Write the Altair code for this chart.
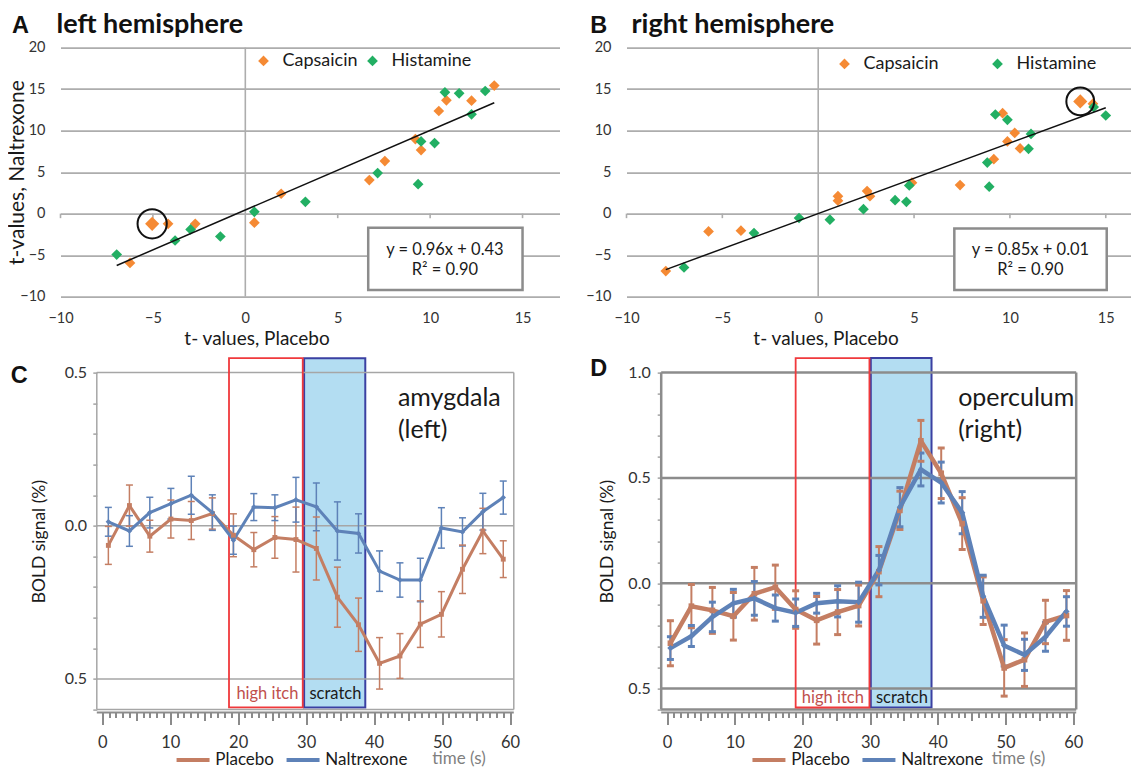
import altair as alt
import pandas as pd

FONT = "Lato"
LFONT = "Liberation Sans"
ORANGE = "#F58A34"
GREEN = "#22AF63"
BROWN = "#C47E63"
BLUE = "#5E82B8"
GRID = "#ADADAD"
TXT = "#1A1A1A"
LAB = "#333333"
RED = "#F0393C"
DBLUE = "#3B40A2"
LBLUE = "#B3DDF2"

# ---------------- Panel A (left hemisphere) ----------------
A_caps_x = [-5.04, -4.18, -2.71, -6.24, 0.49, 1.94, 6.71, 7.55, 9.20, 9.51, 10.47, 10.88, 12.24, 13.47]
A_caps_y = [-1.23, -1.23, -1.23, -5.94, -1.10, 2.39, 4.04, 6.33, 8.98, 7.66, 12.36, 13.65, 13.60, 15.42]
A_hist_x = [-6.96, -3.80, -2.96, -1.35, 0.49, 3.25, 7.16, 9.35, 9.51, 10.24, 10.80, 11.57, 12.24, 12.98]
A_hist_y = [-4.93, -3.24, -1.91, -2.76, 0.22, 1.42, 4.88, 3.55, 8.70, 8.50, 14.61, 14.49, 11.96, 14.77]
A_fit = (0.96, 0.43)
A_fit_x = [-6.96, 13.47]
A_eq = ["y = 0.96x + 0.43", "R² = 0.90"]

# ---------------- Panel B (right hemisphere) ----------------
B_caps_x = [13.67, -7.95, -5.72, -4.03, 1.03, 1.03, 2.55, 2.70, 4.89, 7.40, 9.16, 9.62, 9.87, 10.25, 10.53, 14.33]
B_caps_y = [13.52, -6.92, -2.15, -2.06, 2.10, 1.55, 2.71, 2.10, 3.72, 3.44, 6.56, 12.10, 8.70, 9.72, 7.85, 13.24]
B_hist_x = [-7.00, -3.35, -1.00, 0.61, 2.36, 4.01, 4.60, 4.75, 8.82, 8.92, 9.24, 9.87, 10.97, 11.10, 14.37, 15.00]
B_hist_y = [-6.48, -2.35, -0.53, -0.73, 0.53, 1.62, 1.42, 3.40, 6.15, 3.24, 11.94, 11.30, 7.81, 9.60, 12.83, 11.82]
B_fit = (0.85, 0.01)
B_fit_x = [-7.95, 15.00]
B_eq = ["y = 0.85x + 0.01", "R² = 0.90"]

SC_XTICKS = [-10, -5, 0, 5, 10, 15]
SC_YTICKS = [-10, -5, 0, 5, 10, 15, 20]
SC_ZERO_TICKS = [-10, -5, 5, 10, 15]

# ---------------- Panel C (amygdala, left) ----------------
C_t = [0.9, 4.0, 7.0, 10.1, 13.1, 16.2, 19.3, 22.3, 25.4, 28.5, 31.5, 34.6, 37.7, 40.8, 43.8, 46.8, 49.9, 53.0, 56.0, 59.0]
C_plac = [-0.064, 0.066, -0.034, 0.022, 0.017, 0.040, -0.031, -0.078, -0.038, -0.045,
          -0.074, -0.233, -0.323, -0.449, -0.425, -0.321, -0.289, -0.142, -0.017, -0.109]
C_plac_err = [0.062, 0.067, 0.052, 0.062, 0.062, 0.051, 0.070, 0.056, 0.068, 0.106,
              0.103, 0.098, 0.087, 0.084, 0.073, 0.076, 0.074, 0.079, 0.074, 0.060]
C_nalt = [0.013, -0.017, 0.043, 0.072, 0.100, 0.043, -0.047, 0.061, 0.059, 0.085,
          0.062, -0.017, -0.025, -0.148, -0.177, -0.177, -0.007, -0.020, 0.046, 0.092]
C_nalt_err = [0.047, 0.050, 0.050, 0.050, 0.062, 0.058, 0.046, 0.044, 0.042, 0.073,
              0.078, 0.095, 0.064, 0.066, 0.056, 0.071, 0.066, 0.046, 0.060, 0.054]
C_YTICKS = [-0.6, -0.5, -0.4, -0.3, -0.2, -0.1, 0.0, 0.1, 0.2, 0.3, 0.4, 0.5]
C_GRID = [0.0, -0.5]

# ---------------- Panel D (operculum, right) ----------------
D_t = [0.5, 3.6, 6.7, 9.8, 12.9, 16.0, 19.0, 22.1, 25.2, 28.3, 31.3, 34.4, 37.5, 40.5, 43.6, 46.7, 49.8, 52.8, 55.9, 59.0]
D_plac = [-0.285, -0.109, -0.129, -0.157, -0.050, -0.019, -0.125, -0.176, -0.137, -0.106,
          0.055, 0.346, 0.676, 0.522, 0.283, -0.083, -0.402, -0.363, -0.184, -0.153]
D_plac_err = [0.107, 0.103, 0.109, 0.113, 0.125, 0.105, 0.089, 0.113, 0.107, 0.097,
              0.119, 0.091, 0.097, 0.120, 0.123, 0.113, 0.134, 0.127, 0.103, 0.118]
D_nalt = [-0.308, -0.251, -0.160, -0.095, -0.072, -0.118, -0.140, -0.095, -0.086, -0.090,
          0.062, 0.361, 0.540, 0.478, 0.335, -0.062, -0.296, -0.340, -0.255, -0.134]
D_nalt_err = [0.054, 0.050, 0.070, 0.066, 0.080, 0.062, 0.065, 0.047, 0.074, 0.095,
              0.070, 0.093, 0.078, 0.097, 0.100, 0.100, 0.097, 0.074, 0.068, 0.070]
D_YTICKS = [-0.6, -0.5, -0.4, -0.3, -0.2, -0.1, 0.0, 0.1, 0.2, 0.3, 0.4, 0.5, 0.6, 0.7, 0.8, 0.9, 1.0]
D_GRID = [0.5, 0.0, -0.5]

TIME_TICKS = list(range(0, 61))
CONDS = ["Placebo", "Naltrexone"]
GROUPS = ["Capsaicin", "Histamine"]


def text_px(text, x, y, size, font=FONT, weight="normal", color=TXT, align="left"):
    return alt.Chart(pd.DataFrame({"s": [text]})).mark_text(
        align=align, baseline="alphabetic", font=font, fontSize=size,
        fontWeight=weight, color=color
    ).encode(x=alt.value(x), y=alt.value(y), text="s:N")


def scatter_panel(caps_x, caps_y, hist_x, hist_y, fit, fit_x, eq, xmax, width,
                  box, eq_x, letter, title, letter_dx, title_dx,
                  legend_x, legend_y, col_pad, xtitle_x, ytitle, circle_size):
    height = 249
    pts = pd.DataFrame({
        "x": caps_x + hist_x,
        "y": caps_y + hist_y,
        "group": [GROUPS[0]] * len(caps_x) + [GROUPS[1]] * len(hist_x),
    })
    xsc = alt.Scale(domain=[-10, xmax], nice=False, zero=False)
    ysc = alt.Scale(domain=[-10, 20], nice=False, zero=False)

    xaxis = alt.Axis(values=SC_XTICKS, grid=False, domain=False, ticks=False, tickSize=0,
                     labelPadding=22, labelBaseline="middle", labelFontSize=14.5,
                     labelColor=LAB, labelFlush=False, labelOverlap=False,
                     title="t- values, Placebo", titleFontSize=19, titleFontWeight="normal",
                     titleColor=TXT, titleX=xtitle_x, titleY=48, titleAlign="center",
                     titleBaseline="alphabetic")
    ykw = dict(values=SC_YTICKS, grid=True, gridColor=GRID, gridWidth=1.6, domain=False,
               ticks=False, tickSize=0, labelPadding=15.5, labelFontSize=14.5,
               labelColor=LAB, labelFlush=False, labelOverlap=False)
    if ytitle:
        ykw.update(title=ytitle, titleFontSize=21, titleFontWeight="normal", titleColor=TXT,
                   titleAngle=270, titleX=-37, titleY=height / 2, titleAlign="center",
                   titleBaseline="alphabetic")
    else:
        ykw.update(title="")
    yaxis = alt.Axis(**ykw)

    def X(f="x"):
        return alt.X(f + ":Q", scale=xsc, axis=xaxis)

    def Y(f="y"):
        return alt.Y(f + ":Q", scale=ysc, axis=yaxis)

    points = alt.Chart(pts).mark_point(
        shape="diamond", filled=True, size=115, opacity=1, strokeWidth=0
    ).encode(
        x=X(), y=Y(),
        color=alt.Color("group:N", scale=alt.Scale(domain=GROUPS, range=[ORANGE, GREEN]),
                        legend=alt.Legend(orient="none", legendX=legend_x, legendY=legend_y,
                                          direction="horizontal", title=None,
                                          symbolType="diamond", symbolSize=115,
                                          symbolStrokeWidth=0, labelFont=FONT,
                                          labelFontSize=18, labelColor=TXT, labelOffset=10,
                                          columnPadding=col_pad, padding=0)),
    )

    zero = pd.DataFrame({"x": [0], "y": [-10], "y2": [20]})
    zero_line = alt.Chart(zero).mark_rule(color=GRID, strokeWidth=1.6).encode(
        x=X(), y=Y(), y2="y2:Q")

    zt = pd.DataFrame({"x": SC_ZERO_TICKS, "y": [0] * len(SC_ZERO_TICKS),
                       "y2": [-0.55] * len(SC_ZERO_TICKS)})
    zero_ticks = alt.Chart(zt).mark_rule(color=GRID, strokeWidth=1.6).encode(
        x=X(), y=Y(), y2="y2:Q")

    fit_df = pd.DataFrame({"x": fit_x, "y": [fit[0] * v + fit[1] for v in fit_x]})
    trend = alt.Chart(fit_df).mark_line(color="#111111", strokeWidth=1.5).encode(x=X(), y=Y())

    hl = pd.DataFrame({"x": [caps_x[0]], "y": [caps_y[0]]})
    big = alt.Chart(hl).mark_point(shape="diamond", filled=True, size=200, opacity=1,
                                   color=ORANGE, strokeWidth=0).encode(x=X(), y=Y())
    ring = alt.Chart(hl).mark_point(shape="circle", filled=False, size=circle_size, opacity=1,
                                    color="#111111", strokeWidth=2).encode(x=X(), y=Y())

    bx = pd.DataFrame({"x": [box[0]], "x2": [box[1]], "y": [box[2]], "y2": [box[3]]})
    box_m = alt.Chart(bx).mark_rect(fill="white", stroke="#8C8C8C", strokeWidth=2.5).encode(
        x=X(), x2="x2:Q", y=Y(), y2="y2:Q")
    eq_df = pd.DataFrame({"x": [eq_x, eq_x], "y": [-4.35, -6.75], "s": eq})
    eq_t = alt.Chart(eq_df).mark_text(fontSize=16.5, color=TXT, baseline="middle",
                                      align="center").encode(x=X(), y=Y(), text="s:N")

    let = text_px(letter, letter_dx, -15, 23.5, font=LFONT, weight="bold", color="#111111")
    tit = text_px(title, title_dx, -15, 27, weight="bold", color="#111111")

    return alt.layer(zero_line, zero_ticks, points, big, trend, ring, box_m, eq_t, let, tit
                     ).properties(width=width, height=height)


def bold_panel(t, plac, plac_err, nalt, nalt_err, frame_l, xmax, ppu, ext, ydom, yticks,
               grid_vals, grid_col, grid_w, frame_col, frame_w, hi, sc, rect_y, lab_y,
               hi_x, sc_x, region, region_x, region_y, letter, letter_dx, letter_dy,
               legend_x, legend_y, title_x, title_y, ytitle_x, ylab_pad,
               line_w, err_w, cap_thick, mark_size):
    height = 337
    # the view starts `ext` pixels left of the visible frame (for column alignment)
    xmin = frame_l - ext / ppu
    width = (xmax - xmin) * ppu
    ppy = height / (ydom[1] - ydom[0])
    n = len(t)
    df = pd.DataFrame({
        "x": t + t,
        "y": plac + nalt,
        "e": plac_err + nalt_err,
        "cond": [CONDS[0]] * n + [CONDS[1]] * n,
    })
    df["lo"] = df["y"] - df["e"]
    df["hi"] = df["y"] + df["e"]
    xsc = alt.Scale(domain=[xmin, xmax], nice=False, zero=False)
    ysc = alt.Scale(domain=ydom, nice=False, zero=False)
    csc = alt.Scale(domain=CONDS, range=[BROWN, BLUE])

    ylab = ("abs(datum.value) < 0.01 ? '0.0' : abs(abs(datum.value) - 0.5) < 0.01 ? '0.5'"
            " : abs(datum.value - 1) < 0.01 ? '1.0' : ''")
    xaxis = alt.Axis(values=TIME_TICKS, grid=False, domain=False, ticks=True,
                     tickColor="#595959", tickWidth=1.4,
                     tickSize={"condition": [{"test": "datum.value % 10 === 0", "value": 12},
                                             {"test": "datum.value % 5 === 0", "value": 8}],
                               "value": 5},
                     labelExpr="datum.value % 10 === 0 ? datum.label : ''",
                     labelFontSize=16.5, labelColor=LAB, labelPadding=18,
                     labelBaseline="middle", labelFlush=False, labelOverlap=False, offset=3,
                     title="time (s)", titleFontSize=17, titleFontWeight="normal",
                     titleColor="#7F7F7F", titleX=title_x + ext, titleY=title_y,
                     titleAlign="left", titleBaseline="middle")
    yaxis = alt.Axis(values=yticks, grid=False, domain=False, ticks=True, tickSize=4,
                     tickColor="#8C8C8C", tickWidth=1.2, labelExpr=ylab, labelFontSize=16,
                     labelColor=LAB, labelPadding=ylab_pad, labelFlush=False,
                     labelOverlap=False, offset=-ext, title="BOLD signal (%)",
                     titleFontSize=17.5, titleFontWeight="normal", titleColor=TXT,
                     titleAngle=270, titleX=ytitle_x, titleY=height / 2, titleAlign="center",
                     titleBaseline="alphabetic")
    # line-sample legend: custom stroke path twice the nominal symbol size
    legend = alt.Legend(orient="none", legendX=legend_x + ext + 8.25, legendY=legend_y,
                        direction="horizontal", title=None,
                        symbolType="M-2,0H2", symbolSize=272,
                        symbolStrokeWidth=4, labelFont=FONT,
                        labelFontSize=17, labelColor=TXT, labelOffset=11.75,
                        columnPadding=4, gridAlign="none", padding=0)

    def X(f="x"):
        return alt.X(f + ":Q", scale=xsc, axis=xaxis)

    def Y(f="y"):
        return alt.Y(f + ":Q", scale=ysc, axis=yaxis)

    col = alt.Color("cond:N", scale=csc, legend=legend)

    hi_df = pd.DataFrame({"x": [hi[0]], "x2": [hi[1]], "y": [rect_y[0]], "y2": [rect_y[1]]})
    sc_df = pd.DataFrame({"x": [sc[0]], "x2": [sc[1]], "y": [rect_y[0]], "y2": [rect_y[1]]})
    hi_rect = alt.Chart(hi_df).mark_rect(fillOpacity=0, stroke=RED, strokeWidth=1.8).encode(
        x=X(), x2="x2:Q", y=Y(), y2="y2:Q")
    sc_rect = alt.Chart(sc_df).mark_rect(fill=LBLUE, stroke=DBLUE, strokeWidth=2).encode(
        x=X(), x2="x2:Q", y=Y(), y2="y2:Q")

    g_df = pd.DataFrame({"x": [frame_l] * len(grid_vals), "x2": [xmax] * len(grid_vals),
                         "y": grid_vals})
    grid = alt.Chart(g_df).mark_rule(color=grid_col, strokeWidth=grid_w).encode(
        x=X(), x2="x2:Q", y=Y())

    # plot frame and the x-axis line just below it
    fr = pd.DataFrame({
        "x": [frame_l, frame_l, frame_l, xmax],
        "x2": [xmax, xmax, frame_l, xmax],
        "y": [ydom[0], ydom[1], ydom[0], ydom[0]],
        "y2": [ydom[0], ydom[1], ydom[1], ydom[1]],
    })
    frame = alt.Chart(fr).mark_rule(color=frame_col, strokeWidth=frame_w).encode(
        x=X(), x2="x2:Q", y=Y(), y2="y2:Q")
    ax_y = ydom[0] - 3 / ppy
    axl = pd.DataFrame({"x": [frame_l], "x2": [xmax], "y": [ax_y]})
    axis_line = alt.Chart(axl).mark_rule(color="#8C8C8C", strokeWidth=2).encode(
        x=X(), x2="x2:Q", y=Y())

    err = alt.Chart(df).mark_rule(strokeWidth=err_w).encode(
        x=X(), y=Y("lo"), y2="hi:Q", color=col)
    cap_lo = alt.Chart(df).mark_tick(orient="horizontal", size=7, thickness=cap_thick,
                                     opacity=1).encode(x=X(), y=Y("lo"), color=col)
    cap_hi = alt.Chart(df).mark_tick(orient="horizontal", size=7, thickness=cap_thick,
                                     opacity=1).encode(x=X(), y=Y("hi"), color=col)

    lines = alt.Chart(df).mark_line(strokeWidth=line_w).encode(x=X(), y=Y(), color=col)
    pts_p = alt.Chart(df).transform_filter(alt.datum.cond == CONDS[0]).mark_point(
        filled=True, opacity=1, size=mark_size * 0.8, strokeWidth=0, shape="square",
        color=BROWN).encode(x=X(), y=Y())
    pts_n = alt.Chart(df).transform_filter(alt.datum.cond == CONDS[1]).mark_point(
        filled=True, opacity=1, size=mark_size, strokeWidth=0, shape="diamond",
        color=BLUE).encode(x=X(), y=Y())

    reg = pd.DataFrame({"x": [region_x, region_x], "y": region_y, "s": region})
    reg_t = alt.Chart(reg).mark_text(fontSize=25, color=TXT, align="left",
                                     baseline="alphabetic").encode(x=X(), y=Y(), text="s:N")
    hi_l = pd.DataFrame({"x": [hi_x], "y": [lab_y], "s": ["high itch"]})
    sc_l = pd.DataFrame({"x": [sc_x], "y": [lab_y], "s": ["scratch"]})
    hi_t = alt.Chart(hi_l).mark_text(fontSize=16.5, align="center", baseline="alphabetic",
                                     color="#C0504D").encode(x=X(), y=Y(), text="s:N")
    sc_t = alt.Chart(sc_l).mark_text(fontSize=16.5, align="center", baseline="alphabetic",
                                     color="#1A1A1A").encode(x=X(), y=Y(), text="s:N")

    let = text_px(letter, letter_dx + ext, letter_dy, 23.5, font=LFONT, weight="bold",
                  color="#111111")
    return alt.layer(sc_rect, grid, frame, axis_line, hi_rect, err, cap_lo, cap_hi, lines,
                     pts_p, pts_n, reg_t, hi_t, sc_t, let).properties(width=width, height=height)


A = scatter_panel(A_caps_x, A_caps_y, A_hist_x, A_hist_y, A_fit, A_fit_x, A_eq, 17, 499,
                  (6.65, 15.0, -1.7, -9.2), 10.8, "A", "left hemisphere", -48.5, -4,
                  194, 4.3, 5, 196, "t-values, Naltrexone", 855)
B = scatter_panel(B_caps_x, B_caps_y, B_hist_x, B_hist_y, B_fit, B_fit_x, B_eq, 16.29, 504,
                  (7.1, 15.05, -1.8, -9.2), 11.07, "B", "right hemisphere", -36.3, 5,
                  209, 7.3, 49, 199, None, 775)

C = bold_panel(C_t, C_plac, C_plac_err, C_nalt, C_nalt_err, -0.8, 60.55, 6.797, 36.3,
               [-0.6, 0.5], C_YTICKS, C_GRID, "#A6A6A6", 1.5, "#A6A6A6", 1.5,
               (18.65, 29.5), (29.7, 38.7), (0.547, -0.593), -0.564, 24.3, 34.3,
               ["amygdala", "(left)"], 43.5, [0.392, 0.286], "C", -86, 10.5,
               77.5, 377, 335, 45.5, -52, 6.3, 3, 1.5, 1.5, 30)
D = bold_panel(D_t, D_plac, D_plac_err, D_nalt, D_nalt_err, -0.86, 60.44, 6.77, 34.7,
               [-0.6, 1.0], D_YTICKS, D_GRID, "#8C8C8C", 2.5, "#8C8C8C", 2.5,
               (19.0, 29.9), (30.1, 39.07), (1.069, -0.59), -0.569, 24.5, 34.7,
               ["operculum", "(right)"], 43.0, [0.84, 0.689], "D", -71, 3.5,
               89, 377, 330, 45.5, -49, 7, 4.5, 2, 3, 40)

chart = alt.concat(A, B, C, D, columns=2, spacing={"row": 8, "column": 26}).properties(
    padding={"left": -2.5, "top": 2.6, "right": 0, "bottom": 0},
).resolve_scale(color="independent").resolve_legend(color="independent").configure(
    font=FONT).configure_view(stroke=None).configure_axis(labelFont=FONT, titleFont=FONT)

chart.save("out.html", embed_options={"renderer": "svg", "actions": False})
